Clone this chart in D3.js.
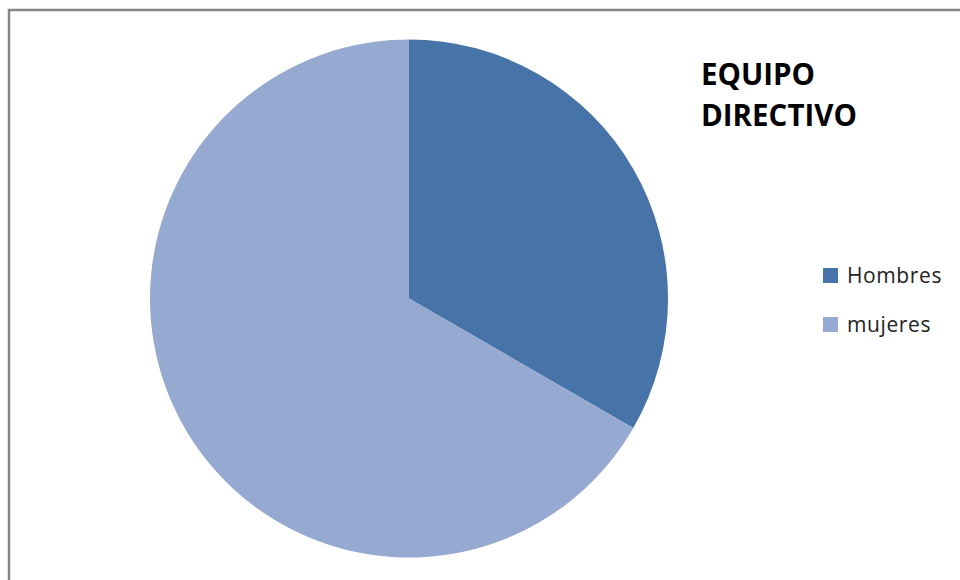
<!DOCTYPE html>
<html><head><meta charset="utf-8">
<script src="https://cdn.jsdelivr.net/npm/d3@7"></script>
<style>body{margin:0;background:#fff}svg{display:block}</style>
</head><body>
<svg id="c" width="960" height="580"></svg>
<script>
const categories = ["Hombres", "mujeres"];
const values = [1, 2];
const colors = ["#4673A8", "#95A9D1"];
const titleLines = ["EQUIPO", "DIRECTIVO"];

const svg = d3.select("#c");
svg.append("rect").attr("x", 9).attr("y", 10).attr("width", 1000).attr("height", 1000)
  .attr("fill", "#fff").attr("stroke", "#858585").attr("stroke-width", 2.5);

const cx = 409, cy = 298.5, r = 259;
const pie = d3.pie().sort(null).value(d => d)(values);
const arc = d3.arc().innerRadius(0).outerRadius(r);
const color = d3.scaleOrdinal().domain(categories).range(colors);
svg.append("g").attr("transform", `translate(${cx},${cy})`)
  .selectAll("path").data(pie).join("path")
  .attr("d", arc).attr("fill", (d, i) => color(categories[i]));

svg.append("g").selectAll("text").data(titleLines).join("text")
  .attr("x", 701).attr("y", (d, i) => 85 + i * 41)
  .attr("font-family", "Open Sans").attr("font-weight", "bold").attr("font-size", 29.5)
  .attr("fill", "#000").text(d => d);

const leg = svg.append("g").selectAll("g").data(categories).join("g")
  .attr("transform", (d, i) => `translate(823,${268 + i * 49})`);
leg.append("rect").attr("width", 15).attr("height", 15).attr("fill", d => color(d));
leg.append("text").attr("x", 24).attr("y", 14.5).attr("font-family", "Open Sans")
  .attr("font-size", 21).attr("letter-spacing", 0.6).attr("fill", "#222").text(d => d);
</script>
</body></html>
